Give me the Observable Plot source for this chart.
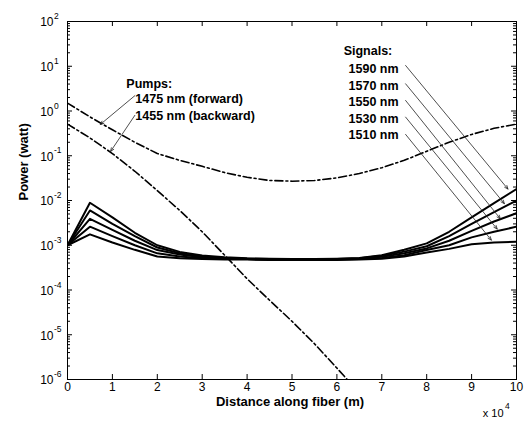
<!DOCTYPE html>
<html><head><meta charset="utf-8">
<script src="https://cdn.jsdelivr.net/npm/d3@7"></script>
<script src="https://cdn.jsdelivr.net/npm/@observablehq/plot@0.6"></script>
<style>body{margin:0;background:#fff;font-family:"Liberation Sans",Arial,sans-serif}</style>
</head><body><div id="chart"></div>
<script>
// Distance along fiber, in units of 10^4 m
const distance = [0, 0.5, 1, 1.5, 2, 2.5, 3, 3.5, 4, 4.5, 5, 5.5, 6, 6.5, 7, 7.5, 8, 8.5, 9, 9.5, 10];

// Signal powers (watt)
const sig1590 = [1.0e-3, 8.9e-3, 4.2e-3, 1.9e-3, 1.0e-3, 7.1e-4, 5.9e-4, 5.4e-4, 5.1e-4, 5.0e-4, 4.9e-4, 4.9e-4, 5.0e-4, 5.2e-4, 6.0e-4, 7.9e-4, 1.1e-3, 2.0e-3, 4.2e-3, 8.7e-3, 1.8e-2];
const sig1570 = [1.0e-3, 6.0e-3, 3.0e-3, 1.6e-3, 8.9e-4, 6.6e-4, 5.6e-4, 5.2e-4, 5.0e-4, 4.9e-4, 4.8e-4, 4.8e-4, 4.9e-4, 5.1e-4, 5.8e-4, 7.2e-4, 9.5e-4, 1.6e-3, 3.0e-3, 5.5e-3, 1.0e-2];
const sig1550 = [1.0e-3, 3.9e-3, 2.2e-3, 1.26e-3, 7.8e-4, 6.2e-4, 5.4e-4, 5.1e-4, 4.9e-4, 4.8e-4, 4.8e-4, 4.8e-4, 4.9e-4, 5.0e-4, 5.5e-4, 6.6e-4, 8.5e-4, 1.26e-3, 2.1e-3, 3.4e-3, 5.2e-3];
const sig1530 = [1.0e-3, 2.6e-3, 1.6e-3, 1.0e-3, 6.6e-4, 5.6e-4, 5.1e-4, 5.0e-4, 4.9e-4, 4.8e-4, 4.7e-4, 4.7e-4, 4.8e-4, 4.9e-4, 5.2e-4, 6.0e-4, 7.8e-4, 1.0e-3, 1.5e-3, 2.0e-3, 2.6e-3];
const sig1510 = [1.0e-3, 1.75e-3, 1.15e-3, 7.9e-4, 5.6e-4, 5.1e-4, 4.9e-4, 4.8e-4, 4.8e-4, 4.7e-4, 4.7e-4, 4.7e-4, 4.7e-4, 4.8e-4, 5.0e-4, 5.6e-4, 6.9e-4, 8.3e-4, 1.05e-3, 1.15e-3, 1.2e-3];

// Pump powers (watt)
const pumpUpper = [1.5, 0.74, 0.38, 0.2, 0.112, 0.079, 0.058, 0.042, 0.033, 0.028, 0.027, 0.028, 0.032, 0.04, 0.054, 0.079, 0.126, 0.2, 0.3, 0.41, 0.51];
const pumpLowerDistance = [0, 0.5, 1, 1.5, 2, 2.5, 3, 3.5, 4, 4.5, 5, 5.5, 6, 6.23];
const pumpLower = [0.51, 0.25, 0.112, 0.045, 0.0166, 6.0e-3, 2.0e-3, 6.0e-4, 1.78e-4, 5.9e-5, 2.0e-5, 6.3e-6, 1.8e-6, 1.0e-6];

// Axis ticks
const xTicks = [0, 1, 2, 3, 4, 5, 6, 7, 8, 9, 10];
const yExponents = [2, 1, 0, -1, -2, -3, -4, -5, -6];

// Annotations (data coordinates)
const pumpTexts = ["Pumps:", "1475 nm (forward)", "1455 nm (backward)"];
const pumpTextX = [1.31, 1.51, 1.51];
const pumpTextY = [4.1, 1.81, 0.79];
const pumpArrowFromX = [1.5, 1.5];
const pumpArrowFromY = [2.2, 0.8];
const pumpArrowToX = [0.73, 0.96];
const pumpArrowToY = [0.5, 0.125];

const signalTexts = ["Signals:", "1590 nm", "1570 nm", "1550 nm", "1530 nm", "1510 nm"];
const signalTextX = [6.15, 6.26, 6.26, 6.26, 6.26, 6.26];
const signalTextY = [22.4, 8.9, 3.7, 1.57, 0.67, 0.284];
const signalArrowFromY = [10.4, 4.05, 1.72, 0.73, 0.30];
const signalArrowFromX = [7.53, 7.53, 7.53, 7.53, 7.53];
const signalArrowToX = [9.81, 9.73, 9.64, 9.57, 9.44];
const signalArrowToY = [0.018, 0.0085, 0.0039, 0.0023, 0.0013];

// Build tables
const signals = [sig1590, sig1570, sig1550, sig1530, sig1510];
const signalRows = signals.flatMap((s, i) => s.map((v, j) => ({x: distance[j], y: v, s: i})));
const upperRows = pumpUpper.map((v, j) => ({x: distance[j], y: v}));
const lowerRows = pumpLower.map((v, j) => ({x: pumpLowerDistance[j], y: v}));
const pumpTextRows = pumpTexts.map((t, i) => ({t, x: pumpTextX[i], y: pumpTextY[i]}));
const pumpArrowRows = pumpArrowFromX.map((_, i) => ({x1: pumpArrowFromX[i], y1: pumpArrowFromY[i], x2: pumpArrowToX[i], y2: pumpArrowToY[i]}));
const signalTextRows = signalTexts.map((t, i) => ({t, x: signalTextX[i], y: signalTextY[i]}));
const signalArrowRows = signalArrowFromX.map((_, i) => ({x1: signalArrowFromX[i], y1: signalArrowFromY[i], x2: signalArrowToX[i], y2: signalArrowToY[i]}));

const minorTicks = [];
for (let e = -6; e < 2; e++) for (let k = 2; k <= 9; k++) minorTicks.push(k * Math.pow(10, e));
const majorY = yExponents.map(e => Math.pow(10, e));

const W = 528, H = 422, mL = 67, mR = 12, mT = 21, mB = 43;
const innerW = W - mL - mR, innerH = H - mT - mB;
const font = "Liberation Sans, Arial, sans-serif";

const chart = Plot.plot({
  width: W, height: H,
  marginLeft: mL, marginRight: mR, marginTop: mT, marginBottom: mB,
  style: {fontFamily: font, background: "#fff", color: "black"},
  x: {domain: [0, 10], axis: null},
  y: {type: "log", domain: [1e-6, 1e2], axis: null},
  marks: [
    // ticks (inward, mirrored)
    Plot.tickX(xTicks, {x: d => d, insetTop: innerH - 5, stroke: "black"}),
    Plot.tickX(xTicks, {x: d => d, insetBottom: innerH - 5, stroke: "black"}),
    Plot.tickY(majorY, {y: d => d, insetRight: innerW - 5, stroke: "black"}),
    Plot.tickY(majorY, {y: d => d, insetLeft: innerW - 5, stroke: "black"}),
    Plot.tickY(minorTicks, {y: d => d, insetRight: innerW - 3, stroke: "black"}),
    Plot.tickY(minorTicks, {y: d => d, insetLeft: innerW - 3, stroke: "black"}),
    // data
    Plot.line(signalRows, {x: "x", y: "y", z: "s", stroke: "black", strokeWidth: 2, clip: true}),
    Plot.line(upperRows, {x: "x", y: "y", stroke: "black", strokeWidth: 1.6, strokeDasharray: "8,3,2,3", clip: true}),
    Plot.line(lowerRows, {x: "x", y: "y", stroke: "black", strokeWidth: 1.6, strokeDasharray: "8,3,2,3", clip: true}),
    // annotations
    Plot.arrow(pumpArrowRows, {x1: "x1", y1: "y1", x2: "x2", y2: "y2", stroke: "#222", strokeWidth: 0.8, headLength: 7, headAngle: 45}),
    Plot.arrow(signalArrowRows, {x1: "x1", y1: "y1", x2: "x2", y2: "y2", stroke: "#222", strokeWidth: 0.8, headLength: 7, headAngle: 45}),
    Plot.text(pumpTextRows, {x: "x", y: "y", text: "t", textAnchor: "start", fontWeight: "bold", fontSize: 12.5, fill: "black"}),
    Plot.text(signalTextRows, {x: "x", y: "y", text: "t", textAnchor: "start", fontWeight: "bold", fontSize: 12.5, fill: "black"}),
    // frame
    Plot.frame({stroke: "black", strokeWidth: 1}),
    // x tick labels
    Plot.text(xTicks, {x: d => d, frameAnchor: "bottom", dy: 11, text: d => String(d), fontSize: 12, fill: "black"}),
    // y tick labels: 10 with superscript exponent
    Plot.text(yExponents, {y: d => Math.pow(10, d), frameAnchor: "left", dx: -14, dy: 1, textAnchor: "end", text: () => "10", fontSize: 12, fill: "black"}),
    Plot.text(yExponents, {y: d => Math.pow(10, d), frameAnchor: "left", dx: -13.5, dy: -5, textAnchor: "start", text: d => String(d), fontSize: 8.5, fill: "black"}),
    // axis labels
    Plot.text(["Distance along fiber (m)"], {frameAnchor: "bottom", dy: 26, dx: -2, text: d => d, fontWeight: "bold", fontSize: 13, fill: "black"}),
    Plot.text(["Power (watt)"], {frameAnchor: "left", dx: -44, rotate: -90, text: d => d, fontWeight: "bold", fontSize: 13, fill: "black"}),
    Plot.text(["x 10"], {frameAnchor: "bottom-right", dx: -13, dy: 37, textAnchor: "end", text: d => d, fontSize: 11, fill: "black"}),
    Plot.text(["4"], {frameAnchor: "bottom-right", dx: -11.5, dy: 29, textAnchor: "start", text: d => d, fontSize: 8.5, fill: "black"})
  ]
});
document.getElementById("chart").appendChild(chart);
</script>
</body></html>
